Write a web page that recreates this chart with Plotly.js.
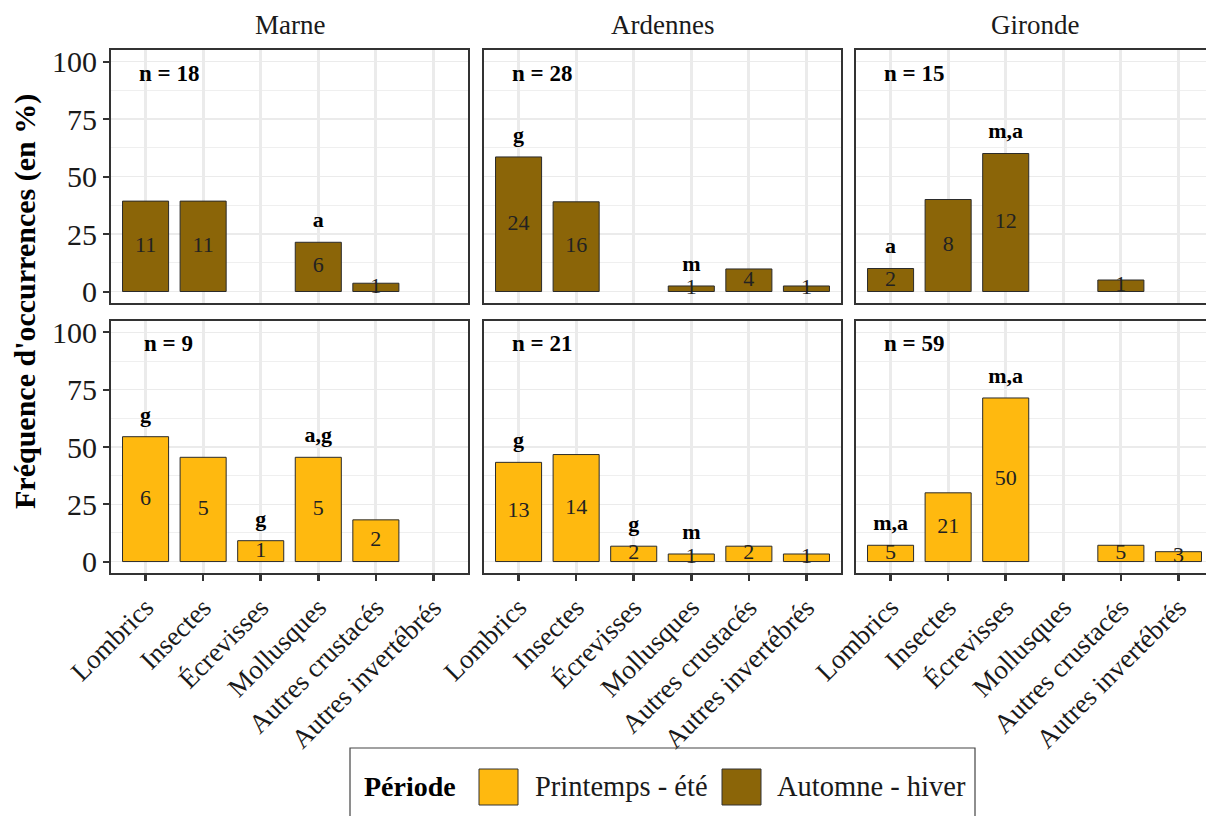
<!DOCTYPE html>
<html>
<head>
<meta charset="utf-8">
<script src="https://cdn.plot.ly/plotly-3.0.1.min.js"></script>
<style>
  html, body { margin: 0; padding: 0; overflow: hidden; background: #fff; }
  #chart { width: 1216px; height: 816px; }
</style>
</head>
<body>
<div id="chart"></div>
<script>
// Prey categories, sites and seasons
const categories = ['Lombrics', 'Insectes', 'Écrevisses', 'Mollusques', 'Autres crustacés', 'Autres invertébrés'];
const regions = ['Marne', 'Ardennes', 'Gironde'];
const periods = ['Printemps - été', 'Automne - hiver'];
const periodColors = ['#FFB90F', '#8B6508'];
const yTicks = [0, 25, 50, 75, 100];

// Frequency of occurrence (%) per prey category — autumn/winter
const marneAH    = [39.3, 39.3, null, 21.4, 3.6, null];
const ardennesAH = [58.5, 39.0, null, 2.4, 9.8, 2.4];
const girondeAH  = [10.0, 40.0, 60.0, null, 5.0, null];
// Frequency of occurrence (%) per prey category — spring/summer
const marnePE    = [54.5, 45.5, 9.1, 45.5, 18.2, null];
const ardennesPE = [43.3, 46.7, 6.7, 3.3, 6.7, 3.3];
const girondePE  = [7.1, 30.0, 71.4, null, 7.1, 4.3];

// Number of occurrences written inside each bar
const marneAHCount    = [11, 11, null, 6, 1, null];
const ardennesAHCount = [24, 16, null, 1, 4, 1];
const girondeAHCount  = [2, 8, 12, null, 1, null];
const marnePECount    = [6, 5, 1, 5, 2, null];
const ardennesPECount = [13, 14, 2, 1, 2, 1];
const girondePECount  = [5, 21, 50, null, 5, 3];

// Significance letters above the bars
const marneAHSig    = ['', '', '', 'a', '', ''];
const ardennesAHSig = ['g', '', '', 'm', '', ''];
const girondeAHSig  = ['a', '', 'm,a', '', '', ''];
const marnePESig    = ['g', '', 'g', 'a,g', '', ''];
const ardennesPESig = ['g', '', 'g', 'm', '', ''];
const girondePESig  = ['m,a', '', 'm,a', '', '', ''];

// Sample sizes per panel
const nAH = [18, 28, 15];
const nPE = [9, 21, 59];

// Panel grid: row 0 = autumn/winter, row 1 = spring/summer
const panels = [
  { row: 0, col: 0, pct: marneAH,    cnt: marneAHCount,    sig: marneAHSig,    n: nAH[0], period: 1 },
  { row: 0, col: 1, pct: ardennesAH, cnt: ardennesAHCount, sig: ardennesAHSig, n: nAH[1], period: 1 },
  { row: 0, col: 2, pct: girondeAH,  cnt: girondeAHCount,  sig: girondeAHSig,  n: nAH[2], period: 1 },
  { row: 1, col: 0, pct: marnePE,    cnt: marnePECount,    sig: marnePESig,    n: nPE[0], period: 0 },
  { row: 1, col: 1, pct: ardennesPE, cnt: ardennesPECount, sig: ardennesPESig, n: nPE[1], period: 0 },
  { row: 1, col: 2, pct: girondePE,  cnt: girondePECount,  sig: girondePESig,  n: nPE[2], period: 0 }
];

const W = 1216, H = 816;
const fx = v => v / W;
const fy = v => 1 - v / H;
const colPx = [[111, 468], [484, 841], [856, 1213]];
const rowPx = [[50, 303], [321, 573]];
const FONT = 'Liberation Serif';
const INK = '#1a1a1a';

const data = [];
const layout = {
  width: W, height: H,
  margin: { l: 0, r: 0, t: 0, b: 0 },
  paper_bgcolor: '#ffffff',
  plot_bgcolor: '#ffffff',
  showlegend: false,
  font: { family: FONT, color: INK },
  annotations: [],
  shapes: []
};

panels.forEach((p, i) => {
  const k = i + 1;
  const xa = 'x' + (k === 1 ? '' : k);
  const ya = 'y' + (k === 1 ? '' : k);
  const bottom = p.row === 1;
  const left = p.col === 0;

  layout['xaxis' + (k === 1 ? '' : k)] = {
    domain: [fx(colPx[p.col][0]), fx(colPx[p.col][1])],
    anchor: ya,
    type: 'category',
    categoryorder: 'array',
    categoryarray: categories,
    range: [-0.6, 5.6],
    showline: true, mirror: true, linecolor: '#333333', linewidth: 2,
    showgrid: true, gridcolor: '#EBEBEB', gridwidth: 3,
    zeroline: false,
    ticks: bottom ? 'outside' : '',
    ticklen: 6, tickwidth: 2.5, tickcolor: '#333333',
    showticklabels: bottom,
    tickangle: -45,
    tickfont: { family: FONT, size: 27, color: INK },
    automargin: false,
    fixedrange: true
  };
  layout['yaxis' + (k === 1 ? '' : k)] = {
    domain: [fy(rowPx[p.row][1]), fy(rowPx[p.row][0])],
    anchor: xa,
    range: [-5, 105],
    tickmode: 'array',
    tickvals: yTicks,
    ticktext: yTicks.map(String),
    showline: true, mirror: true, linecolor: '#333333', linewidth: 2,
    showgrid: true, gridcolor: '#EBEBEB', gridwidth: 1.4,
    minor: { tickvals: [12.5, 37.5, 62.5, 87.5], showgrid: true, gridcolor: '#EFEFEF', gridwidth: 1.1, ticks: '' },
    zeroline: false,
    ticks: left ? 'outside' : '',
    ticklen: 6, tickwidth: 2, tickcolor: '#333333',
    showticklabels: left,
    tickfont: { family: FONT, size: 30, color: INK },
    automargin: false,
    fixedrange: true
  };

  // bars
  data.push({
    type: 'bar',
    x: categories,
    y: p.pct,
    width: 0.8,
    xaxis: xa, yaxis: ya,
    marker: { color: periodColors[p.period], line: { color: '#2b2b2b', width: 1 } },
    name: periods[p.period],
    hoverinfo: 'x+y'
  });

  // counts centred in each bar
  const cx = [], cy = [], ct = [];
  p.pct.forEach((v, j) => {
    if (v !== null && p.cnt[j] !== null) { cx.push(categories[j]); cy.push(v / 2); ct.push(String(p.cnt[j])); }
  });
  data.push({
    type: 'scatter', mode: 'text',
    x: cx, y: cy, text: ct,
    textposition: 'middle center',
    textfont: { family: FONT, size: 22, color: '#222222' },
    xaxis: xa, yaxis: ya, hoverinfo: 'skip', cliponaxis: false
  });

  // significance letters above bars
  const sx = [], sy = [], st = [];
  p.sig.forEach((s, j) => {
    if (s) { sx.push(categories[j]); sy.push((p.pct[j] || 0) + 9); st.push('<b>' + s + '</b>'); }
  });
  data.push({
    type: 'scatter', mode: 'text',
    x: sx, y: sy, text: st,
    textposition: 'middle center',
    textfont: { family: FONT, size: 22, color: '#000000' },
    xaxis: xa, yaxis: ya, hoverinfo: 'skip', cliponaxis: false
  });

  // sample size
  layout.annotations.push({
    xref: xa, yref: ya, x: 0.4, y: 95,
    text: '<b>n = ' + p.n + '</b>',
    showarrow: false, xanchor: 'center', yanchor: 'middle',
    font: { family: FONT, size: 23, color: '#000000' }
  });
});

// facet strip labels
regions.forEach((r, c) => {
  layout.annotations.push({
    xref: 'paper', yref: 'paper',
    x: fx((colPx[c][0] + colPx[c][1]) / 2), y: fy(25),
    text: r, showarrow: false, xanchor: 'center', yanchor: 'middle',
    font: { family: FONT, size: 27, color: INK }
  });
});

// y axis title
layout.annotations.push({
  xref: 'paper', yref: 'paper',
  x: fx(25), y: fy(302),
  text: "<b>Fréquence d'occurrences (en %)</b>",
  textangle: -90, showarrow: false, xanchor: 'center', yanchor: 'middle',
  font: { family: FONT, size: 30, color: '#000000' }
});

// legend box
layout.shapes.push({
  type: 'rect', xref: 'paper', yref: 'paper',
  x0: fx(350), x1: fx(975), y0: fy(830), y1: fy(748),
  line: { color: '#444444', width: 1.2 }, fillcolor: 'rgba(0,0,0,0)'
});
layout.annotations.push({
  xref: 'paper', yref: 'paper', x: fx(362), y: fy(786),
  text: '<b>Période</b>', showarrow: false, xanchor: 'left', yanchor: 'middle',
  font: { family: FONT, size: 28, color: '#000000' }
});
const swatchX = [479, 722];
const labelX = [533, 775];
periods.forEach((name, i) => {
  layout.shapes.push({
    type: 'rect', xref: 'paper', yref: 'paper',
    x0: fx(swatchX[i]), x1: fx(swatchX[i] + 39), y0: fy(805), y1: fy(769),
    line: { color: '#333333', width: 1 }, fillcolor: periodColors[i]
  });
  layout.annotations.push({
    xref: 'paper', yref: 'paper', x: fx(labelX[i]), y: fy(786),
    text: name, showarrow: false, xanchor: 'left', yanchor: 'middle',
    font: { family: FONT, size: 28.5, color: INK }
  });
});

Plotly.newPlot('chart', data, layout, { staticPlot: true, displayModeBar: false });
</script>
</body>
</html>
